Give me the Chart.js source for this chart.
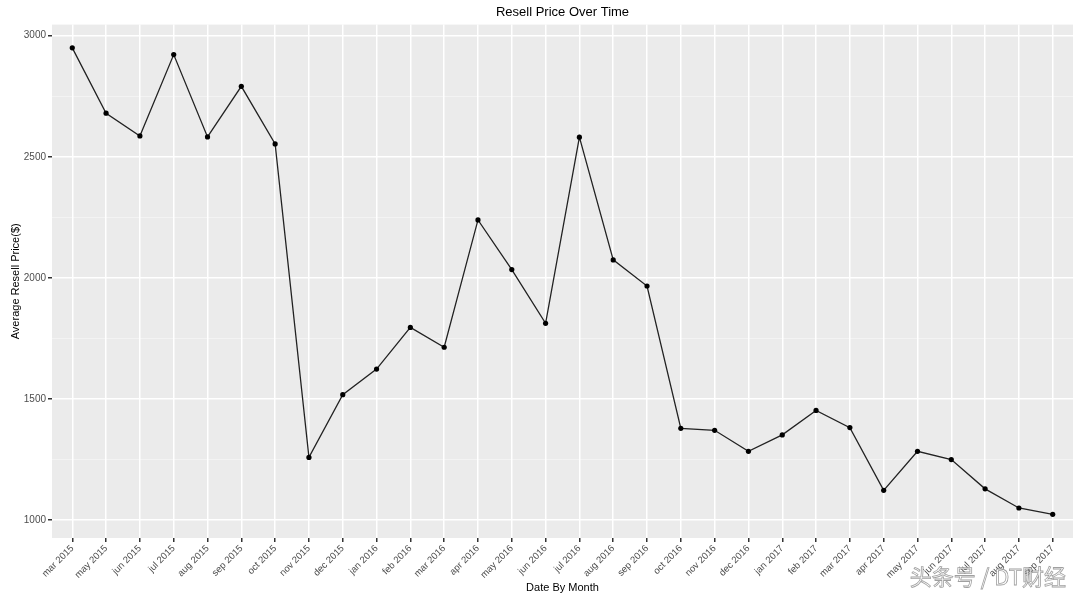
<!DOCTYPE html>
<html>
<head>
<meta charset="utf-8">
<script src="https://cdn.jsdelivr.net/npm/chart.js@4"></script>
<style>
  html, body { margin: 0; padding: 0; background: #fff; }
  #wrap { width: 1080px; height: 595px; }
</style>
</head>
<body>
<div id="wrap"><canvas id="lineChart"></canvas></div>
<script>
const months = [
  "mar 2015", "may 2015", "jun 2015", "jul 2015", "aug 2015", "sep 2015",
  "oct 2015", "nov 2015", "dec 2015", "jan 2016", "feb 2016", "mar 2016",
  "apr 2016", "may 2016", "jun 2016", "jul 2016", "aug 2016", "sep 2016",
  "oct 2016", "nov 2016", "dec 2016", "jan 2017", "feb 2017", "mar 2017",
  "apr 2017", "may 2017", "jun 2017", "jul 2017", "aug 2017", "sep 2017",
];

const prices = [
  2950, 2680, 2586, 2922, 2582, 2791, 2553, 1258, 1517, 1623,
  1795, 1713, 2239, 2034, 1812, 2581, 2074, 1966, 1378, 1370,
  1283, 1351, 1452, 1381, 1122, 1283, 1249, 1128, 1049, 1023,
];

const yTicks = [1000, 1500, 2000, 2500, 3000];

const FONT = "'Liberation Sans', Arial, sans-serif";

// grey ggplot-style panel behind the plot
const panelBg = {
  id: "panelBg",
  beforeDraw(chart) {
    const { ctx, chartArea: a } = chart;
    ctx.save();
    ctx.fillStyle = "#ebebeb";
    ctx.fillRect(a.left, a.top, a.right - a.left, a.bottom - a.top);
    ctx.restore();
  },
};

const watermark = {
  id: "watermark",
  afterDraw(chart) {
    const ctx = chart.ctx;
    ctx.save();
    ctx.font = "22px 'Noto Sans CJK SC', sans-serif";
    ctx.textAlign = "right";
    ctx.textBaseline = "middle";
    ctx.fillStyle = "rgba(255,255,255,0.9)";
    ctx.strokeStyle = "rgba(120,120,120,0.7)";
    ctx.lineWidth = 0.8;
    ctx.fillText("头条号 / DT财经", 1066, 577);
    ctx.strokeText("头条号 / DT财经", 1066, 577);
    ctx.restore();
  },
};

document.addEventListener("DOMContentLoaded", () => {
  const lineChart = document.querySelector("#lineChart");

  new Chart(lineChart, {
    type: "line",
    data: {
      datasets: [
        {
          label: "Average Resell Price",
          data: prices.map((v, i) => ({ x: i, y: v })),
          borderColor: "#222222",
          borderWidth: 1.3,
          pointRadius: 2.6,
          pointBackgroundColor: "#000",
          pointBorderWidth: 0,
          tension: 0,
        },
      ],
    },
    options: {
      responsive: true,
      maintainAspectRatio: false,
      animation: false,
      layout: { padding: { left: 0, right: 7, top: 0, bottom: 0 } },
      plugins: {
        legend: { display: false },
        tooltip: { enabled: false },
        title: {
          display: true,
          text: "Resell Price Over Time",
          fullSize: false,
          color: "#000",
          font: { family: FONT, size: 13, weight: "normal" },
          padding: { top: 5, bottom: 4 },
        },
      },
      scales: {
        x: {
          type: "linear",
          min: -0.6,
          max: months.length - 1 + 0.6,
          afterBuildTicks: (scale) => {
            scale.ticks = months.map((_, i) => ({ value: i }));
          },
          afterFit: (scale) => {
            scale.height = 57;
          },
          border: { display: false },
          grid: {
            color: "#ffffff",
            lineWidth: 1.5,
            tickLength: 4,
            tickColor: "#333333",
          },
          ticks: {
            autoSkip: false,
            minRotation: 45,
            maxRotation: 45,
            padding: 1,
            color: "#4d4d4d",
            font: { family: FONT, size: 9.5 },
            callback: (v) => months[v],
          },
          title: {
            display: true,
            text: "Date By Month",
            color: "#000",
            font: { family: FONT, size: 11 },
            padding: { top: 0, bottom: 0 },
          },
        },
        y: {
          min: 925,
          max: 3046,
          afterBuildTicks: (scale) => {
            const t = [];
            for (let v = 1000; v <= 3000; v += 250) t.push({ value: v });
            scale.ticks = t;
          },
          afterFit: (scale) => {
            scale.width = 52;
          },
          border: { display: false },
          grid: {
            color: (c) => (yTicks.includes(c.tick.value) ? "#ffffff" : "rgba(255,255,255,0.7)"),
            lineWidth: (c) => (yTicks.includes(c.tick.value) ? 1.5 : 0.6),
            tickLength: 4,
            tickColor: (c) => (yTicks.includes(c.tick.value) ? "#333333" : "rgba(0,0,0,0)"),
          },
          ticks: {
            autoSkip: false,
            padding: 2,
            color: "#4d4d4d",
            font: { family: FONT, size: 10 },
            callback: (v) => (yTicks.includes(v) ? String(v) : ""),
          },
          title: {
            display: true,
            text: "Average Resell Price($)",
            color: "#000",
            font: { family: FONT, size: 11 },
            padding: { top: 9, bottom: 0 },
          },
        },
      },
    },
    plugins: [panelBg, watermark],
  });
});
</script>
</body>
</html>
